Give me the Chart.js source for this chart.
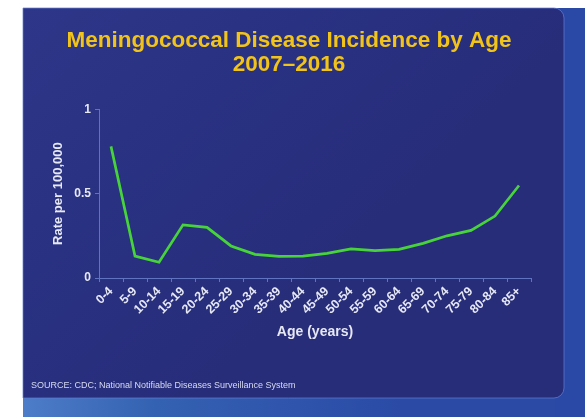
<!DOCTYPE html>
<html><head><meta charset="utf-8">
<script src="https://cdn.jsdelivr.net/npm/chart.js@4/dist/chart.umd.min.js"></script>
<style>html,body{margin:0;padding:0;background:#fff;}#wrap{width:585px;height:417px;}</style>
</head><body><div id="wrap"><canvas id="c" width="585" height="417"></canvas></div>
<script>
const categories = ["0-4","5-9","10-14","15-19","20-24","25-29","30-34","35-39","40-44","45-49","50-54","55-59","60-64","65-69","70-74","75-79","80-84","85+"];
const rates = [0.78,0.13,0.093,0.315,0.30,0.19,0.14,0.128,0.13,0.146,0.173,0.162,0.17,0.205,0.25,0.282,0.367,0.548];
const yTicks = [0, 0.5, 1];
const yTickLabels = ["0", "0.5", "1"];
const titleLines = ["Meningococcal Disease Incidence by Age", "2007\u20132016"];
const sourceText = "SOURCE: CDC; National Notifiable Diseases Surveillance System";

const bgPlugin = {
  id: 'bg',
  beforeDraw(chart) {
    const ctx = chart.ctx;
    ctx.save();
    ctx.fillStyle = '#ffffff';
    ctx.fillRect(0, 0, 585, 417);
    let g = ctx.createLinearGradient(23, 398, 400, 417);
    g.addColorStop(0, '#4d7cc8'); g.addColorStop(0.35, '#3462b2'); g.addColorStop(1, '#2a4aa6');
    ctx.fillStyle = g;
    ctx.fillRect(23, 380, 562, 37);
    ctx.fillStyle = '#2a48a6';
    ctx.fillRect(555, 8, 30, 409);
    const x = 23, y = 8, w = 541, h = 390, r = 10;
    g = ctx.createLinearGradient(23, 8, 300, 300);
    g.addColorStop(0, '#2d3688'); g.addColorStop(0.5, '#293182'); g.addColorStop(1, '#272d79');
    ctx.fillStyle = g;
    ctx.beginPath();
    ctx.moveTo(x, y);
    ctx.lineTo(x + w - r, y);
    ctx.arcTo(x + w, y, x + w, y + r, r);
    ctx.lineTo(x + w, y + h - r);
    ctx.arcTo(x + w, y + h, x + w - r, y + h, r);
    ctx.lineTo(x, y + h);
    ctx.closePath();
    ctx.fill();
    ctx.strokeStyle = 'rgba(100,125,210,0.7)';
    ctx.lineWidth = 1;
    ctx.stroke();
    ctx.restore();
  },
  afterDraw(chart) {
    const ctx = chart.ctx;
    ctx.save();
    ctx.fillStyle = '#d6dbf2';
    ctx.font = '9px "Liberation Sans", Arial, sans-serif';
    ctx.textBaseline = 'middle';
    ctx.fillText(sourceText, 31, 386);
    ctx.restore();
  }
};

new Chart(document.getElementById('c'), {
  type: 'line',
  data: {
    labels: categories,
    datasets: [{
      data: rates,
      borderColor: '#47d43a',
      borderWidth: 2.7,
      pointRadius: 0,
      tension: 0,
      fill: false
    }]
  },
  options: {
    responsive: false,
    animation: false,
    devicePixelRatio: 1,
    layout: { padding: { left: 47, right: 54, top: 0, bottom: 72 } },
    plugins: {
      legend: { display: false },
      tooltip: { enabled: false },
      title: {
        display: true,
        text: titleLines,
        color: '#f2c318',
        font: { family: '"Liberation Sans", Arial, sans-serif', size: 22.5, weight: 'bold', lineHeight: 1.05 },
        padding: { top: 29, bottom: 33 }
      }
    },
    scales: {
      x: {
        offset: true,
        afterFit(s) { s.height = 67; },
        grid: { offset: true, drawOnChartArea: false, drawTicks: true, tickLength: 4, color: '#5f73c0' },
        border: { color: '#5f73c0', width: 1 },
        ticks: {
          color: '#e6e8f4', minRotation: 45, maxRotation: 45, autoSkip: false, padding: 2,
          font: { family: '"Liberation Sans", Arial, sans-serif', size: 12.5, weight: 'bold' }
        },
        title: {
          display: true, text: 'Age (years)', color: '#e6e8f4', padding: 4,
          font: { family: '"Liberation Sans", Arial, sans-serif', size: 14, weight: 'bold' }
        }
      },
      y: {
        min: 0, max: 1,
        afterFit(s) { s.width = 52; },
        afterBuildTicks(s) { s.ticks = yTicks.map(v => ({ value: v })); },
        grid: { drawOnChartArea: false, drawTicks: true, tickLength: 4, color: '#5f73c0' },
        border: { color: '#5f73c0', width: 1 },
        ticks: {
          color: '#e6e8f4', padding: 4,
          callback: (v, i) => yTickLabels[i],
          font: { family: '"Liberation Sans", Arial, sans-serif', size: 12, weight: 'bold' }
        },
        title: {
          display: true, text: 'Rate per 100,000', color: '#e6e8f4', padding: 4,
          font: { family: '"Liberation Sans", Arial, sans-serif', size: 13, weight: 'bold' }
        }
      }
    }
  },
  plugins: [bgPlugin]
});
</script></body></html>
